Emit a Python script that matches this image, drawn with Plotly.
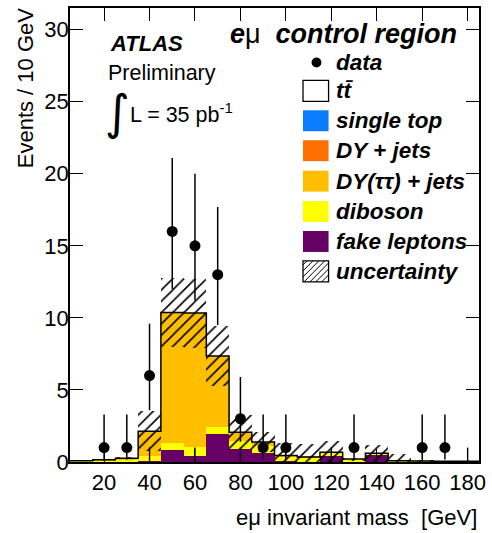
import numpy as np
import plotly.graph_objects as go

# ---------------- data ----------------
bin_centers = [10, 20, 30, 40, 50, 60, 70, 80, 90, 100, 110, 120, 130, 140, 150, 160, 170, 180]
bin_width = 10

fake_leptons = [0.0, 0.0, 0.0, 0.05, 0.8, 0.45, 1.95, 0.9, 0.6, 0.05, 0.02, 0.45, 0.02, 0.5, 0.02, 0.02, 0.01, 0.01]
diboson      = [0.08, 0.12, 0.2, 0.35, 0.5, 0.58, 0.47, 0.55, 0.5, 0.35, 0.3, 0.2, 0.18, 0.1, 0.07, 0.05, 0.04, 0.04]
dy_tautau    = [0.0, 0.03, 0.06, 1.74, 9.07, 9.3, 4.94, 0.62, 0.28, 0.05, 0.03, 0.03, 0.0, 0.0, 0.0, 0.0, 0.0, 0.0]
dy_jets      = [0.0] * 18
single_top   = [0.0] * 18
ttbar        = [0.0] * 18
uncertainty  = [0.02, 0.05, 0.08, 1.4, 2.4, 2.4, 2.1, 1.2, 0.7, 0.85, 0.9, 0.8, 0.1, 0.6, 0.45, 0.05, 0.03, 0.03]

data_counts   = [0, 1, 1, 6, 16, 15, 13, 3, 1, 1, 0, 0, 1, 0, 0, 1, 1, 0]
data_err_up   = [0, 2.3, 2.3, 3.6, 5.1, 5.0, 4.7, 2.9, 2.3, 2.3, 0, 0, 2.3, 0, 0, 2.3, 2.3, 0]
data_err_down = [0, 0.83, 0.83, 2.4, 4.0, 3.8, 3.5, 1.6, 0.83, 0.83, 0, 0, 0.83, 0, 0, 0.83, 0.83, 0]

# short vertical error segments drawn from zero in some bins
zero_seg_bins   = [40, 60, 80, 120, 180]
zero_seg_height = [1.0, 1.0, 1.0, 1.0, 1.0]

x_ticks = [20, 40, 60, 80, 100, 120, 140, 160, 180]
y_ticks = [0, 5, 10, 15, 20, 25, 30]

legend_labels = ["data", "tt\u0304", "single top", "DY + jets", "DY(\u03c4\u03c4) + jets",
                 "diboson", "fake leptons", "uncertainty"]

# ---------------- styling ----------------
FONT = "Liberation Sans, Arial, Helvetica, sans-serif"
C_FAKE, C_DIB, C_DYTT, C_DY, C_ST = "#660066", "#FFFF00", "#FFBF00", "#FF7000", "#0A7CFF"

W, H = 492, 533
L, R, T, B = 70, 486, 7, 462
PW, PH = R - L, B - T


def px(x):
    return (x - L) / PW


def py(y):
    return (B - y) / PH


fig = go.Figure()

x = np.array(bin_centers, dtype=float)
components = [
    (np.array(fake_leptons), C_FAKE),
    (np.array(diboson), C_DIB),
    (np.array(dy_tautau), C_DYTT),
    (np.array(dy_jets), C_DY),
    (np.array(single_top), C_ST),
    (np.array(ttbar), "#FFFFFF"),
]
base = np.zeros_like(x)
for vals, col in components:
    fig.add_trace(go.Bar(x=x, y=vals, base=base.copy(), width=bin_width,
                         marker=dict(color=col, line=dict(width=0)), showlegend=False,
                         hoverinfo="skip"))
    base = base + vals
total = base

# outline of the stack (step)
edges_x = list(x - bin_width / 2) + [x[-1] + bin_width / 2]
edges_y = list(total) + [total[-1]]
fig.add_trace(go.Scatter(x=edges_x, y=edges_y, mode="lines", line=dict(color="black", width=1.5, shape="hv"),
                         showlegend=False, hoverinfo="skip"))

# uncertainty band (hatched)
unc = np.array(uncertainty)
lo = np.clip(total - unc, 0, None)
hi = total + unc
fig.add_trace(go.Bar(x=x, y=hi - lo, base=lo, width=bin_width,
                     marker=dict(color="rgba(0,0,0,0)", line=dict(width=0),
                                 pattern=dict(shape="/", fgcolor="black", bgcolor="rgba(0,0,0,0)",
                                              fgopacity=1, size=8, solidity=0.2, fillmode="overlay")),
                     showlegend=False, hoverinfo="skip"))

# short zero segments
fig.add_trace(go.Scatter(x=zero_seg_bins, y=[0] * len(zero_seg_bins), mode="markers",
                         marker=dict(size=0.1, color="rgba(0,0,0,0)"),
                         error_y=dict(type="data", symmetric=False, array=zero_seg_height,
                                      arrayminus=[0] * len(zero_seg_bins), width=0, thickness=1.4, color="black"),
                         showlegend=False, hoverinfo="skip"))

# data points
dc = np.array(data_counts, dtype=float)
m = dc > 0
fig.add_trace(go.Scatter(x=x[m], y=dc[m], mode="markers",
                         marker=dict(size=11, color="black"),
                         error_y=dict(type="data", symmetric=False,
                                      array=np.array(data_err_up)[m], arrayminus=np.array(data_err_down)[m],
                                      width=0, thickness=1.5, color="black"),
                         showlegend=False, hoverinfo="skip"))

# ---------------- legend (manual) ----------------
shapes = []
annotations = []
row_y = [61.7, 90, 120, 150, 180.5, 211, 241, 271]
bx0, bx1, bh = 307, 333, 21
sw_colors = [None, "white", C_ST, C_DY, C_DYTT, C_DIB, C_FAKE, "white"]
for i, (lab, yc) in enumerate(zip(legend_labels, row_y)):
    if i == 0:
        r = 5
        shapes.append(dict(type="circle", xref="paper", yref="paper",
                           x0=px(320.7 - r), x1=px(320.7 + r), y0=py(yc + r), y1=py(yc - r),
                           fillcolor="black", line=dict(width=0)))
    else:
        y0, y1 = yc - bh / 2, yc + bh / 2
        outline = dict(color="black", width=1.3) if i in (1, 7) else dict(width=0)
        shapes.append(dict(type="rect", xref="paper", yref="paper",
                           x0=px(bx0), x1=px(bx1), y0=py(y1), y1=py(y0),
                           fillcolor=sw_colors[i], line=outline))
        if i == 7:
            path = ""
            c = bx0 + y0 + 4
            while c < bx1 + y1:
                xa = max(bx0, c - y1)
                xb = min(bx1, c - y0)
                if xa < xb:
                    path += f"M{px(xa)},{py(c - xa)} L{px(xb)},{py(c - xb)} "
                c += 6
            shapes.append(dict(type="path", xref="paper", yref="paper", path=path,
                               line=dict(color="black", width=1)))
    annotations.append(dict(xref="paper", yref="paper", x=px(339), y=py(yc), xanchor="left", yanchor="middle",
                            text=f"<b><i>{lab}</i></b>", showarrow=False,
                            font=dict(family=FONT, size=22.5, color="black")))

# title and labels
annotations += [
    dict(xref="paper", yref="paper", x=px(231), y=py(33), xanchor="left", yanchor="middle",
         text="<b><i>e</i></b>\u03bc\u00a0\u00a0<b><i>control region</i></b>", showarrow=False,
         font=dict(family=FONT, size=27, color="black")),
    dict(xref="paper", yref="paper", x=px(109), y=py(42.5), xanchor="left", yanchor="middle",
         text="<b><i>ATLAS</i></b>", showarrow=False, font=dict(family=FONT, size=22, color="black")),
    dict(xref="paper", yref="paper", x=px(107), y=py(72.5), xanchor="left", yanchor="middle",
         text="Preliminary", showarrow=False, font=dict(family=FONT, size=21.5, color="black")),
    dict(xref="paper", yref="paper", x=px(104), y=py(111), xanchor="left", yanchor="middle",
         text="\u222b", showarrow=False, font=dict(family="DejaVu Sans", size=48, color="black")),
    dict(xref="paper", yref="paper", x=px(129), y=py(112), xanchor="left", yanchor="middle",
         text="L = 35 pb<sup>-1</sup>", showarrow=False, font=dict(family=FONT, size=21.5, color="black")),
    dict(xref="paper", yref="paper", x=1.0, y=py(518), xanchor="right", yanchor="middle",
         text="e\u03bc invariant mass\u00a0\u00a0[GeV]", showarrow=False,
         font=dict(family=FONT, size=22, color="black")),
    dict(xref="paper", yref="paper", x=px(25), y=py(4), xanchor="center", yanchor="top", textangle=-90,
         text="Events / 10 GeV", showarrow=False, font=dict(family=FONT, size=22, color="black")),
]

fig.update_layout(
    width=W, height=H,
    margin=dict(l=L, r=W - R, t=T, b=H - B, pad=0),
    paper_bgcolor="white", plot_bgcolor="white",
    barmode="overlay", bargap=0,
    showlegend=False,
    shapes=shapes, annotations=annotations,
    font=dict(family=FONT, size=22, color="black"),
)
fig.update_xaxes(range=[5, 185], tickvals=x_ticks, ticks="inside", ticklen=13, tickwidth=1.2, tickcolor="black",
                 showline=True, linecolor="black", linewidth=1.5, mirror="ticks", showgrid=False, zeroline=False,
                 tickfont=dict(family=FONT, size=22, color="black"), ticklabelstandoff=0)
fig.update_yaxes(range=[0, 31.5], tickvals=y_ticks, ticks="inside", ticklen=13, tickwidth=1.2, tickcolor="black",
                 showline=True, linecolor="black", linewidth=1.5, mirror="ticks", showgrid=False, zeroline=False,
                 tickfont=dict(family=FONT, size=22, color="black"), ticklabelstandoff=-5)

fig.write_html("out.html")
